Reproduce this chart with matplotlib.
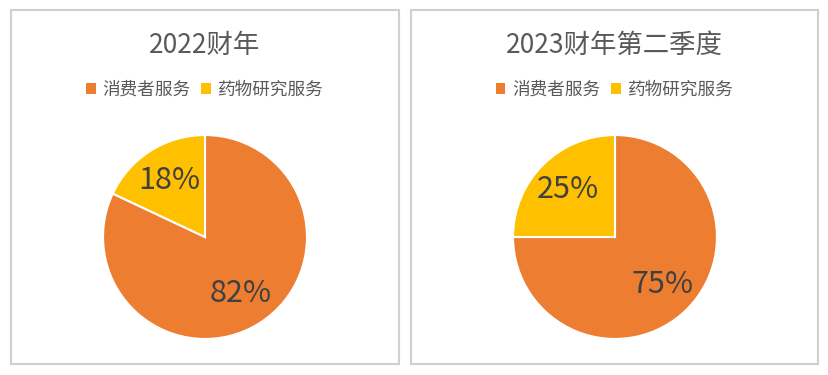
import matplotlib.pyplot as plt
from matplotlib.patches import Rectangle, Patch

plt.rcParams['font.family'] = ['Noto Sans CJK SC', 'DejaVu Sans']

# 数据
titles = ['2022财年', '2023财年第二季度']
categories = ['消费者服务', '药物研究服务']
shares_2022 = [82, 18]
shares_2023q2 = [75, 25]
colors = ['#ED7D31', '#FFC000']

W, H = 829, 375
fig = plt.figure(figsize=(W / 100, H / 100), dpi=100)

# 两个面板边框 (像素)
panels = [(11, 10, 399, 364), (411, 10, 818, 364)]
pie_centers = [(205, 237), (615, 237)]
R = 104

for (x0, y0, x1, y1), title, (cx, cy), vals in zip(
        panels, titles, pie_centers, [shares_2022, shares_2023q2]):
    fig.patches.append(Rectangle((x0 / W, 1 - y1 / H), (x1 - x0) / W, (y1 - y0) / H,
                                 transform=fig.transFigure, fill=False,
                                 edgecolor='#D0D0D0', linewidth=1.5))
    xm = (x0 + x1) / 2 / W
    fig.text(xm, 1 - 45 / H, title, ha='center', va='center',
             fontsize=19, color='#595959')

    ax = fig.add_axes([(cx - R) / W, 1 - (cy + R) / H, 2 * R / W, 2 * R / H])
    wedges, texts, autotexts = ax.pie(
        vals, colors=colors, startangle=90, counterclock=False,
        autopct='%d%%', pctdistance=0.66,
        wedgeprops=dict(edgecolor='white', linewidth=1.5),
        textprops=dict(fontsize=22, color='#404040'))
    ax.set_xlim(-1.02, 1.02)
    ax.set_ylim(-1.02, 1.02)
    ax.set_aspect('equal')

    handles = [Patch(facecolor=c, edgecolor='none') for c in colors]
    fig.legend(handles, categories, loc='center', bbox_to_anchor=(xm, 1 - 90 / H),
               ncol=2, frameon=False, fontsize=12.7, labelcolor='#595959',
               handlelength=0.55, handleheight=0.55, handletextpad=0.4,
               columnspacing=0.6)

fig.savefig('out.png', dpi=100, facecolor='white')
